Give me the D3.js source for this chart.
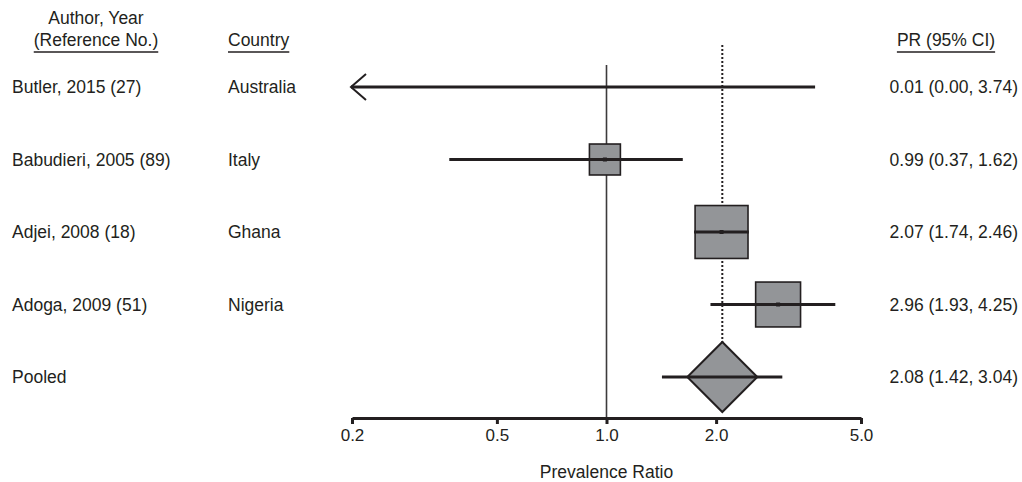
<!DOCTYPE html>
<html>
<head>
<meta charset="utf-8">
<script src="https://cdn.jsdelivr.net/npm/d3@7/dist/d3.min.js"></script>
<style>
  html, body { margin: 0; padding: 0; background: #fff; }
  svg text { font-family: "Liberation Sans", Arial, sans-serif; fill: #231f20; }
</style>
</head>
<body>
<svg id="chart" width="1022" height="482"></svg>
<script>
// Study-level prevalence ratios with 95% confidence intervals
const studies   = ["Butler, 2015 (27)", "Babudieri, 2005 (89)", "Adjei, 2008 (18)", "Adoga, 2009 (51)"];
const countries = ["Australia", "Italy", "Ghana", "Nigeria"];
const estimates = [0.01, 0.99, 2.07, 2.96];
const lowerCI   = [0.00, 0.37, 1.74, 1.93];
const upperCI   = [3.74, 1.62, 2.46, 4.25];
const weights   = [0, 16.6, 48.5, 34.9];   // relative study weight (%)

// Pooled random-effects estimate
const pooledLabel = "Pooled";
const pooledEstimate = [2.08];
const pooledCI = [1.42, 3.04];

const xTicks = [0.2, 0.5, 1.0, 2.0, 5.0];
const xDomain = [0.2, 5.0];
const xTitle = "Prevalence Ratio";

const ink = "#231f20";
const boxFill = "#939598";
const fs = 17.5;

const svg = d3.select("#chart");

const x = d3.scaleLog().domain(xDomain).range([352, 861]);
const rows = studies.concat([pooledLabel]);
const y = d3.scalePoint().domain(rows).range([87, 377]);
const boxSide = d3.scaleSqrt().domain([0, 100]).range([0, 76]);
const f2 = d3.format(".2f");

const data = studies.map((s, i) => ({
  study: s, country: countries[i], pr: estimates[i],
  lo: lowerCI[i], hi: upperCI[i], w: weights[i]
}));

// Column headers
const hdr = svg.append("g").attr("font-size", fs);
hdr.append("text").attr("x", 96).attr("y", 24).attr("text-anchor", "middle").text("Author, Year");
function underlined(txt, xPos, anchor) {
  const t = hdr.append("text").attr("x", xPos).attr("y", 46).attr("text-anchor", anchor).text(txt);
  const w = t.node().getComputedTextLength();
  const x0 = anchor === "middle" ? xPos - w / 2 : xPos;
  hdr.append("line").attr("x1", x0).attr("x2", x0 + w).attr("y1", 52).attr("y2", 52)
    .attr("stroke", ink).attr("stroke-width", 1.6);
}
underlined("(Reference No.)", 96, "middle");
underlined("Country", 228, "start");
underlined("PR (95% CI)", 946, "middle");

// Reference line at PR = 1 and dotted line at pooled estimate
svg.append("line").attr("x1", x(1)).attr("x2", x(1)).attr("y1", 65).attr("y2", 418)
  .attr("stroke", "#3d3b3c").attr("stroke-width", 1.6);
const dHalf = 35;
svg.append("line").attr("x1", x(pooledEstimate[0])).attr("x2", x(pooledEstimate[0]))
  .attr("y1", 45).attr("y2", y(pooledLabel) - dHalf)
  .attr("stroke", ink).attr("stroke-width", 2).attr("stroke-dasharray", "2,2");

// Text columns
const txt = svg.append("g").attr("font-size", fs);
rows.forEach(r => {
  txt.append("text").attr("x", 12).attr("y", y(r)).attr("dy", "0.35em").text(r);
});
data.forEach(d => {
  txt.append("text").attr("x", 228).attr("y", y(d.study)).attr("dy", "0.35em").text(d.country);
  txt.append("text").attr("x", 1018).attr("y", y(d.study)).attr("dy", "0.35em").attr("text-anchor", "end")
    .text(`${f2(d.pr)} (${f2(d.lo)}, ${f2(d.hi)})`);
});
txt.append("text").attr("x", 1018).attr("y", y(pooledLabel)).attr("dy", "0.35em").attr("text-anchor", "end")
  .text(`${f2(pooledEstimate[0])} (${f2(pooledCI[0])}, ${f2(pooledCI[1])})`);

// Study boxes
const marks = svg.append("g");
data.filter(d => d.w > 0).forEach(d => {
  const s = boxSide(d.w);
  marks.append("rect").attr("x", x(d.pr) - s / 2).attr("y", y(d.study) - s / 2)
    .attr("width", s).attr("height", s)
    .attr("fill", boxFill).attr("stroke", ink).attr("stroke-width", 1.6);
});

// Confidence interval whiskers (arrow where the interval leaves the axis range)
data.forEach(d => {
  const cy = y(d.study);
  const clipped = d.lo < xDomain[0];
  const x0 = clipped ? x(xDomain[0]) - 1 : x(d.lo);
  marks.append("line").attr("x1", x0).attr("x2", x(Math.min(d.hi, xDomain[1])))
    .attr("y1", cy).attr("y2", cy).attr("stroke", ink).attr("stroke-width", 3);
  if (clipped) {
    marks.append("path")
      .attr("d", `M${x0 + 15},${cy - 13} L${x0},${cy} L${x0 + 15},${cy + 13}`)
      .attr("fill", "none").attr("stroke", ink).attr("stroke-width", 2);
  }
  if (d.pr >= xDomain[0]) {
    marks.append("rect").attr("x", x(d.pr) - 2).attr("y", cy - 2).attr("width", 4).attr("height", 4).attr("fill", ink);
  }
});

// Pooled diamond
const px = x(pooledEstimate[0]), py = y(pooledLabel);
marks.append("path")
  .attr("d", `M${px},${py - dHalf} L${px + dHalf},${py} L${px},${py + dHalf} L${px - dHalf},${py} Z`)
  .attr("fill", boxFill).attr("stroke", ink).attr("stroke-width", 2);
marks.append("line").attr("x1", x(pooledCI[0])).attr("x2", x(pooledCI[1]))
  .attr("y1", py).attr("y2", py).attr("stroke", ink).attr("stroke-width", 3);

// X axis
const axis = svg.append("g").attr("transform", "translate(0,418)")
  .call(d3.axisBottom(x).tickValues(xTicks).tickFormat(d3.format(".1f")).tickSizeInner(6).tickSizeOuter(0));
axis.select(".domain").attr("stroke", ink).attr("stroke-width", 3);
axis.selectAll(".tick line").attr("stroke", ink).attr("stroke-width", 3);
axis.selectAll(".tick text").attr("font-size", 17).attr("font-family", "Liberation Sans, Arial, sans-serif")
  .attr("fill", ink).attr("y", 11).attr("dy", "0.71em");

svg.append("text").attr("x", x(1)).attr("y", 478).attr("text-anchor", "middle")
  .attr("font-size", fs).text(xTitle);
</script>
</body>
</html>
